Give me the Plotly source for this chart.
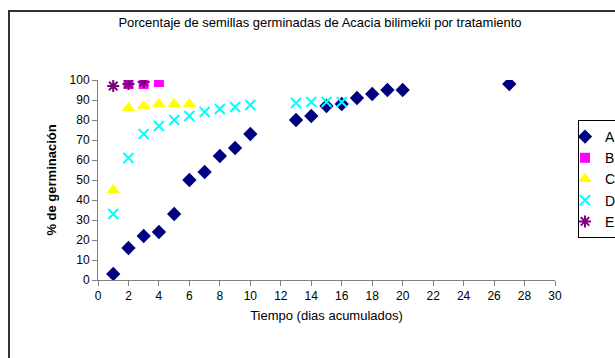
import plotly.graph_objects as go

# Data
days_A = [1, 2, 3, 4, 5, 6, 7, 8, 9, 10, 13, 14, 15, 16, 17, 18, 19, 20, 27]
pct_A = [3, 16, 22, 24, 33, 50, 54, 62, 66, 73, 80, 82, 87, 88, 91, 93, 95, 95, 98]
days_B = [2, 3, 4]
pct_B = [98, 98, 99]
days_C = [1, 2, 3, 4, 5, 6]
pct_C = [45, 86, 87, 88, 88, 88]
days_D = [1, 2, 3, 4, 5, 6, 7, 8, 9, 10, 13, 14, 15, 16]
pct_D = [33, 61, 73, 77, 80, 82, 84, 85.5, 86.5, 87.5, 88.5, 89, 89, 89]
days_E = [1, 2, 3]
pct_E = [97, 98, 99]

x_ticks = list(range(0, 31, 2))
y_ticks = list(range(0, 101, 10))

FONT = "Liberation Sans, Arial, sans-serif"

fig = go.Figure()
fig.add_trace(go.Scatter(x=days_A, y=pct_A, mode="markers", name="A",
                         marker=dict(symbol="diamond", size=11, color="#000080")))
fig.add_trace(go.Scatter(x=days_B, y=pct_B, mode="markers", name="B",
                         marker=dict(symbol="square", size=10, color="#FF00FF")))
fig.add_trace(go.Scatter(x=days_C, y=pct_C, mode="markers", name="C",
                         marker=dict(symbol="triangle-up", size=12, color="#FFFF00")))
fig.add_trace(go.Scatter(x=days_D, y=pct_D, mode="markers", name="D",
                         marker=dict(symbol="x-thin-open", size=10, color="#00FFFF",
                                     line=dict(width=2, color="#00FFFF"))))
fig.add_trace(go.Scatter(x=days_E, y=pct_E, mode="markers", name="E",
                         marker=dict(symbol="asterisk-open", size=10, color="#800080",
                                     line=dict(width=2, color="#800080"))))

fig.update_layout(
    width=615, height=358,
    margin=dict(l=98, r=60, t=80, b=78, autoexpand=False),
    paper_bgcolor="white", plot_bgcolor="white",
    font=dict(family=FONT, size=12, color="black"),
    title=dict(text="Porcentaje de semillas germinadas de Acacia bilimekii por tratamiento",
               x=(320) / 615, xanchor="center", y=1 - 22 / 358, yanchor="middle",
               font=dict(size=13, family=FONT)),
    legend=dict(x=(578 - 98) / 457, xanchor="left", y=(280 - 120) / 200, yanchor="top",
                bordercolor="black", borderwidth=1, bgcolor="white", itemwidth=30,
                indentation=-14,
                font=dict(size=14, family=FONT), tracegroupgap=0),
    shapes=[dict(type="rect", xref="paper", yref="paper",
                 x0=(9 - 98) / 457, x1=2.0, y0=-1.0, y1=(280 - 11) / 200,
                 line=dict(color="#333333", width=2), fillcolor="rgba(0,0,0,0)", layer="below")],
)

fig.update_xaxes(range=[0, 30], tickvals=x_ticks, showgrid=False, zeroline=False,
                 showline=True, linecolor="#808080", linewidth=1,
                 ticks="outside", ticklen=5, tickcolor="#808080",
                 title=dict(text="Tiempo (dias acumulados)", standoff=8, font=dict(size=13)))
fig.update_yaxes(range=[0, 100], tickvals=y_ticks, showgrid=False, zeroline=False,
                 showline=True, linecolor="#808080", linewidth=1,
                 ticks="outside", ticklen=5, tickcolor="#808080",
                 title=dict(text="<b>% de germinación</b>", standoff=10, font=dict(size=13)))

fig.write_html("out.html", config={"displayModeBar": False},
               post_script="document.body.style.margin='0';")
